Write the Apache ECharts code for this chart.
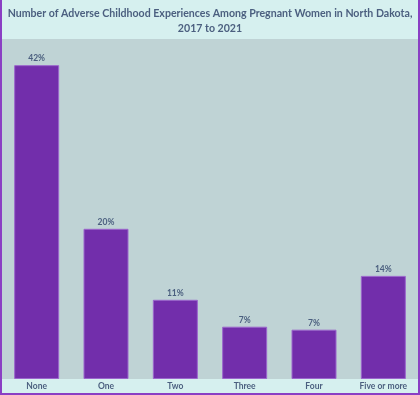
<!DOCTYPE html>
<html>
<head>
<meta charset="utf-8">
<script src="https://cdn.jsdelivr.net/npm/echarts@6/dist/echarts.min.js"></script>
<style>
html,body{margin:0;padding:0;background:#d6f0ef;}
#wrap{position:absolute;left:0;top:0;width:416px;height:393px;border-left:2px solid #8a3fc4;border-right:2px solid #8a3fc4;border-bottom:2px solid #8a3fc4;background:#d6f0ef;}
#chart{width:416px;height:393px;}
</style>
</head>
<body>
<div id="wrap"><div id="chart"></div></div>
<script>
const categories = ['None', 'One', 'Two', 'Three', 'Four', 'Five or more'];
const percentValues = [42, 20.1, 10.6, 7.0, 6.6, 13.8];
const titleText = 'Number of Adverse Childhood Experiences Among Pregnant Women in North Dakota,\n2017 to 2021';

const textColor = '#4b5f7f';
const chart = echarts.init(document.getElementById('chart'), null, {renderer: 'canvas'});
chart.setOption({
  backgroundColor: '#d6f0ef',
  animation: false,
  title: {
    text: titleText,
    left: 'center',
    top: 1,
    textStyle: {fontFamily: 'Lato', fontWeight: 'bold', fontSize: 10.6, lineHeight: 15, color: textColor, align: 'center'}
  },
  grid: {left: 0, right: 0, top: 39, bottom: 14, show: true, backgroundColor: '#bfd3d5', borderWidth: 0},
  xAxis: {
    type: 'category',
    data: categories,
    axisLine: {show: false},
    axisTick: {show: false},
    axisLabel: {color: textColor, fontFamily: 'Lato', fontWeight: 'bold', fontSize: 8.5, margin: 3, interval: 0}
  },
  yAxis: {
    type: 'value',
    min: 0,
    max: 45.5,
    show: false,
    splitLine: {show: false}
  },
  series: [{
    type: 'bar',
    data: percentValues,
    barWidth: 45,
    itemStyle: {color: '#722eab', borderColor: '#9b66cc', borderWidth: 1},
    label: {
      show: true,
      position: 'top',
      distance: 2,
      color: textColor,
      fontFamily: 'Lato',
      fontWeight: 'bold',
      fontSize: 8.5,
      formatter: p => Math.round(p.value) + '%'
    }
  }]
});
</script>
</body>
</html>
